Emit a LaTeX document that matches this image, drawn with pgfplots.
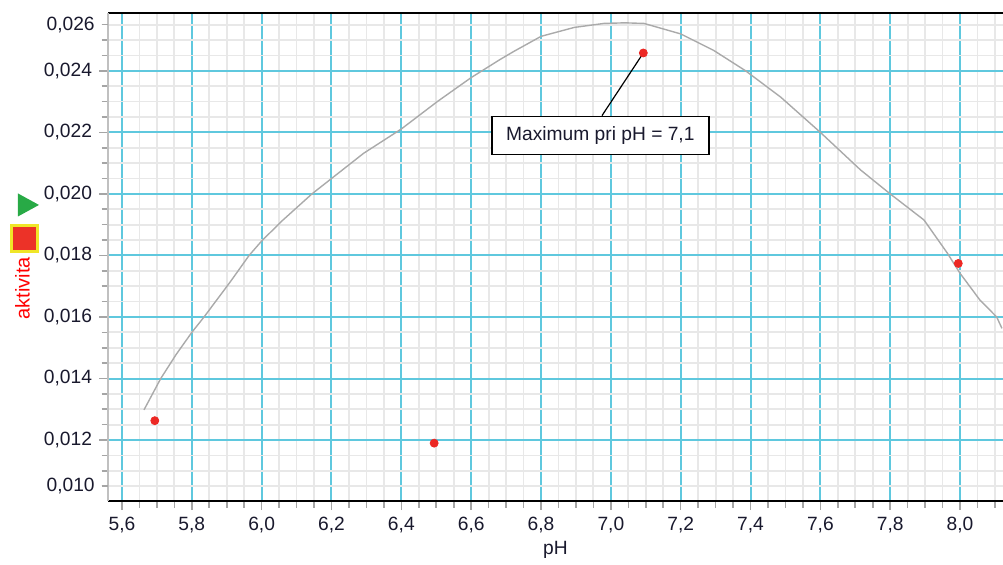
\documentclass[border=0pt]{standalone}
\usepackage{fontspec}
\setmainfont{Liberation Sans}
\usepackage{pgfplots}
\pgfplotsset{compat=1.18}
\usetikzlibrary{shapes.geometric}

\definecolor{gridblue}{RGB}{95,200,222}
\definecolor{minorgray}{RGB}{232,232,232}
\definecolor{curvegray}{RGB}{170,170,170}
\definecolor{dotred}{RGB}{236,40,36}
\definecolor{labelink}{RGB}{25,25,45}
\definecolor{tickgray}{RGB}{165,165,165}
\definecolor{iconred}{RGB}{236,50,40}
\definecolor{iconyellow}{RGB}{240,230,40}
\definecolor{icongreen}{RGB}{40,170,70}

\begin{document}
\begin{tikzpicture}
\begin{axis}[
  name=ax,
  scale only axis, width=453.8pt, height=243.85pt,
  xmin=5.5608, xmax=8.16, ymin=0.01002, ymax=0.02587,
  clip=false,
  axis y line*=left, tick pos=left,
  separate axis lines,
  x axis line style={black, line width=1pt},
  y axis line style={tickgray!70, line width=1pt},
  tick align=outside,
  major tick length=4.6pt, minor tick length=3.3pt,
  every tick/.style={tickgray, line width=0.8pt},
  grid=both,
  major grid style={gridblue, line width=1pt},
  minor grid style={minorgray, line width=0.9pt},
  xtick={5.6,5.8,6.0,6.2,6.4,6.6,6.8,7.0,7.2,7.4,7.6,7.8,8.0},
  minor xtick={5.55,5.6,...,8.15},
  ytick={0.012,0.014,0.016,0.018,0.020,0.022,0.024},
  minor ytick={0.0100,0.0105,...,0.0259},
  extra y ticks={0.0105,0.0255},
  extra y tick labels={{0,010},{0,026}},
  extra y tick style={grid=none, major tick length=3.3pt},
  scaled y ticks=false,
  xticklabel style={/pgf/number format/.cd, fixed, fixed zerofill, precision=1, use comma, assume math mode=true},
  yticklabel style={/pgf/number format/.cd, fixed, fixed zerofill, precision=3, use comma, assume math mode=true},
  every tick label/.append style={font=\fontsize{9.6}{11}\selectfont, text=labelink},
  xlabel={pH},
  xlabel style={at={(axis description cs:0.4927,0)}, yshift=-24.5pt, anchor=center,
    font=\fontsize{9.6}{11}\selectfont, text=labelink},
  ylabel={aktivita},
  ylabel style={at={(axis description cs:-0.0947,0.436)}, anchor=center,
    font=\fontsize{10}{11}\selectfont, text=red},
]
\addplot[curvegray, line width=0.7pt] coordinates {
  (5.663,0.01298) (5.711,0.0140) (5.755,0.01478) (5.8,0.0155) (5.835,0.0160)
  (5.91,0.01714) (5.964,0.0180) (6.0,0.01847) (6.058,0.01912) (6.144,0.0200)
  (6.2,0.0205) (6.292,0.02132) (6.4,0.02211) (6.503,0.0230) (6.6,0.02378)
  (6.683,0.02437) (6.722,0.02463) (6.8,0.02512) (6.895,0.02541) (6.98,0.02554)
  (7.04,0.02556) (7.095,0.02554) (7.2,0.0252) (7.295,0.02466) (7.386,0.0240)
  (7.486,0.02315) (7.6,0.0220) (7.715,0.02078) (7.8,0.0200) (7.897,0.01915)
  (7.964,0.01807) (8.0,0.01742) (8.057,0.01655) (8.105,0.0160) (8.12,0.01563)
};
\addplot[only marks, mark=*, mark size=2pt, color=dotred] coordinates {
  (5.694,0.01263) (6.494,0.01190) (7.093,0.02458) (7.995,0.01774)
};
\node[draw=black, line width=0.8pt, fill=white, inner sep=0pt,
  minimum width=108.5pt, minimum height=19pt,
  font=\fontsize{9.6}{11}\selectfont, text=labelink] (ann) at (axis cs:6.97,0.0219) {Maximum pri pH = 7,1};
\draw[black, line width=0.6pt] (axis cs:7.093,0.02458) -- ([xshift=0.8pt]ann.north);
\node[fill=iconred, draw=iconyellow, line width=1.5pt, minimum size=13pt, inner sep=0pt]
  at (axis description cs:-0.0926,0.538) {};
\node[isosceles triangle, isosceles triangle stretches, fill=icongreen, inner sep=0pt,
  minimum height=10.5pt, minimum width=11.5pt]
  at (axis description cs:-0.092,0.607) {};
\end{axis}
\pgfresetboundingbox
\path[use as bounding box] (-54.15pt,-32pt) rectangle (447.35pt,250.5pt);
\end{tikzpicture}
\end{document}
